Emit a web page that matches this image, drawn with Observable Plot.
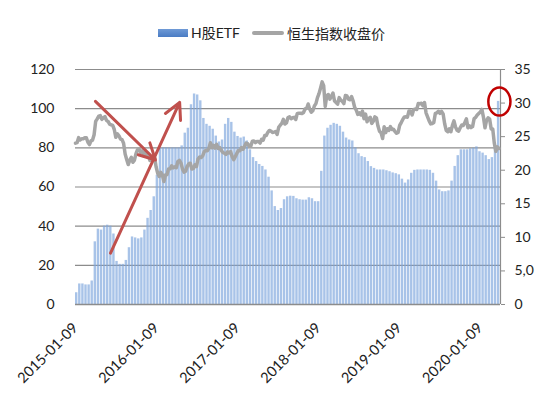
<!DOCTYPE html>
<html>
<head>
<meta charset="utf-8">
<script src="https://cdn.jsdelivr.net/npm/d3@7"></script>
<script src="https://cdn.jsdelivr.net/npm/@observablehq/plot@0.6"></script>
<style>
  html, body { margin: 0; padding: 0; background: #fff; }
  #wrap { position: relative; width: 541px; height: 404px; overflow: hidden; }
  #legend { position: absolute; left: 0; top: 0; width: 541px; height: 55px; font-family: Lato, "Noto Sans CJK SC", sans-serif; font-size: 14px; color: #222; }
  #legend .sw1 { position: absolute; left: 158px; top: 29px; width: 30px; height: 8px; background: linear-gradient(#6f9ad6, #4a7cc4); }
  #legend .t1 { position: absolute; left: 191px; top: 23px; line-height: 20px; }
  #legend .sw2 { position: absolute; left: 252px; top: 31px; width: 32px; height: 4px; background: #a5a5a5; border-radius: 2px; }
  #legend .t2 { position: absolute; left: 287px; top: 23px; line-height: 20px; font-family: "Noto Sans CJK SC", sans-serif; font-size: 14px; }
  #chart { position: absolute; left: 0; top: 55px; width: 541px; }
</style>
</head>
<body>
<div id="wrap">
  <div id="legend">
    <div class="sw1"></div><div class="t1">H股ETF</div>
    <div class="sw2"></div><div class="t2">恒生指数收盘价</div>
  </div>
  <div id="chart"></div>
</div>
<script>
// ---- data ----
const seriesNames = ["H股ETF", "恒生指数收盘价"];
const barStart = "2015-01-09";     // first bar, biweekly steps
const barStepDays = 14;
const etfValues = [
  6, 10.5, 10.5, 10, 10, 12, 32, 38.5, 38, 40, 40.5, 40, 36, 22, 20.5, 20.5, 22.5, 29, 34.5, 34,
  33.5, 34, 38, 44, 48, 55, 66, 80, 80, 80, 80, 80, 80, 80, 81, 87.5, 90, 102, 107.5, 107,
  104, 95, 92, 91, 89.5, 86, 83, 84, 92, 95, 93, 88, 85.8, 85, 85.5, 83.5, 79, 75, 73, 71.5,
  70.5, 68.7, 65, 58, 50, 48, 49, 53.5, 55, 55.3, 55.2, 54, 53.5, 53.3, 53.3, 54.5, 54, 52.5, 52.5, 68,
  86, 90, 91.5, 92.5, 92, 91, 88, 85, 84, 83.5, 80, 77, 75.5, 75, 73, 70.4, 69.5, 68.7, 68.7, 68.7,
  68.3, 67.8, 67.2, 66.8, 66.2, 64, 62, 63.6, 67, 68.5, 68.7, 68.7, 68.7, 68.7, 68.5, 67, 63, 58.5, 57.6, 57.6,
  58, 63, 70.5, 76, 79, 79, 79, 79.5, 79.8, 80.5, 78, 77.3, 76, 74, 75, 80, 103.7
];
const hsiStart = "2015-01-09";     // weekly closes
const hsiStepDays = 7;
const hsiValues = [
  // 2015
  24026, 24103, 24850, 24507, 24679, 24682, 24832, 24823, 24164, 23823, 24375, 24486, 25275, 27272, 27653, 28061, 28133, 27577, 27822, 27992,
  27424, 27260, 26862, 26760, 26663, 26064, 24901, 25415, 25128, 24636, 24552, 24015, 22410, 21612, 20840, 21504, 21920, 21186, 21506, 22458,
  23067, 23152, 22640, 22867, 22397, 22754, 22068, 22236, 21464, 21755, 21919, 21914,
  // 2016
  20454, 19521, 19081, 19683, 19289, 18320, 19286, 19364, 20176, 20199, 20671, 20346, 20498, 20370, 21316, 21467, 21067, 20156, 19719, 19852,
  20576, 20947, 21042, 20169, 20259, 20794, 20564, 21659, 21964, 21891, 22146, 22767, 22937, 22910, 23266, 24099, 23336, 23686, 23297, 23851,
  23233, 23375, 22955, 22643, 22531, 22345, 22723, 22565, 22761, 22020, 21575, 22001,
  // 2017
  22503, 22937, 22886, 23360, 23130, 23575, 24034, 23966, 23553, 23569, 24310, 24358, 24112, 24267, 24262, 24042, 24615, 24477, 25157, 25175,
  25640, 25925, 25831, 25626, 25670, 25765, 25341, 26389, 26706, 26980, 27563, 26884, 27048, 27849, 27953, 27668, 27808, 27881, 27554, 28458,
  28476, 28487, 28439, 28603, 29121, 29199, 29866, 29074, 28640, 28848, 29578, 29919,
  // 2018
  30815, 31412, 32255, 33154, 32602, 29507, 31115, 31268, 30583, 30996, 31502, 30309, 30093, 29844, 30808, 30418, 30281, 29927, 31122, 31048,
  30588, 30492, 30958, 30309, 29339, 28955, 28316, 28525, 28224, 28804, 27676, 28367, 27213, 27672, 27888, 26973, 27286, 27954, 27789, 26573,
  25801, 25561, 24717, 26486, 25601, 26183, 25927, 26507, 26063, 26094, 25753, 25504,
  // 2019
  25626, 26667, 27090, 27569, 27931, 27946, 27901, 28816, 28812, 28228, 29012, 29113, 29051, 29936, 29910, 29963, 29605, 30082, 28550, 27946,
  27354, 26901, 26965, 27118, 28473, 28543, 28775, 28472, 28766, 28398, 26919, 25939, 25734, 26179, 25725, 26691, 27353, 26435, 25955, 25821,
  26308, 26720, 26667, 27101, 27651, 26327, 26595, 26346, 26498, 27688, 27871, 28225,
  // 2020
  28452, 28638, 29056, 27909, 26313, 27404, 27816, 27609, 26130, 26146, 24033, 22805, 23484, 23236
];
const xTickLabels = ["2015-01-09", "2016-01-09", "2017-01-09", "2018-01-09", "2019-01-09", "2020-01-09"];
const xDomain = ["2015-01-09", "2020-04-10"];
const leftTicks = [0, 20, 40, 60, 80, 100, 120];
const rightTicks = [0, 5000, 10000, 15000, 20000, 25000, 30000, 35000];
// right-axis labels as visible in the picture (cut at the image edge there)
const rightTickLabels = ["0", "5,0", "10", "15", "20", "25", "30", "35"];
const rightMax = 35000;
const leftMax = 120;
// annotations (in data space: date, left-axis value)
const arrowStarts = [["2015-04-09", 103.7], ["2015-06-16", 26.2]];
const arrowEnds   = [["2016-01-05", 73.8], ["2016-04-23", 103.2]];
const circleAt = ["2020-04-05", 103.6];

// ---- build tables ----
const parse = d3.utcParse("%Y-%m-%d");
const bars = etfValues.map((v, i) => {
  const d0 = d3.utcDay.offset(parse(barStart), i * barStepDays);
  return { x1: d0, x2: d3.utcDay.offset(d0, barStepDays), v };
});
const hsi = hsiValues.map((v, i) => ({ date: d3.utcDay.offset(parse(hsiStart), i * hsiStepDays), v }));
const toLeft = v => v * leftMax / rightMax;
const rightLabelOf = new Map(rightTicks.map((t, i) => [toLeft(t), rightTickLabels[i]]));
const arrows = arrowStarts.map((s, i) => ({
  x1: parse(s[0]), y1: s[1], x2: parse(arrowEnds[i][0]), y2: arrowEnds[i][1]
}));
const circle = [{ x: parse(circleAt[0]), y: circleAt[1] }];

// ellipse symbol (taller than wide)
const ellipseSymbol = {
  draw(ctx, size) {
    const r = Math.sqrt(size / Math.PI);
    const rx = r * 0.79, ry = r, k = 0.5523;
    ctx.moveTo(rx, 0);
    ctx.bezierCurveTo(rx, ry * k, rx * k, ry, 0, ry);
    ctx.bezierCurveTo(-rx * k, ry, -rx, ry * k, -rx, 0);
    ctx.bezierCurveTo(-rx, -ry * k, -rx * k, -ry, 0, -ry);
    ctx.bezierCurveTo(rx * k, -ry, rx, -ry * k, rx, 0);
    ctx.closePath();
  }
};

const fmt = d3.utcFormat("%Y-%m-%d");
const plot = Plot.plot({
  width: 541,
  height: 349,
  marginLeft: 75,
  marginRight: 41,
  marginTop: 14,
  marginBottom: 100,
  style: { fontFamily: "Lato, sans-serif", fontSize: "14px", color: "#222", background: "white" },
  x: { type: "utc", domain: xDomain.map(parse) },
  y: { domain: [0, leftMax] },
  marks: [
    Plot.gridY(leftTicks, { stroke: "#8c8c8c", strokeOpacity: 1, strokeWidth: 1.2 }),
    Plot.rectY(bars, { x1: "x1", x2: "x2", y: "v", fill: "#7fa7dd", fillOpacity: 0.68, insetRight: 0.7 }),
    Plot.ruleY([0], { stroke: "#8c8c8c", strokeWidth: 1.5 }),
    Plot.ruleX([parse(xDomain[1])], { stroke: "#8c8c8c", strokeWidth: 1.2 }),
    Plot.line(hsi, { x: "date", y: d => toLeft(d.v), stroke: "#a5a5a5", strokeWidth: 3.5, curve: "linear" }),
    Plot.axisY(leftTicks, { anchor: "left", tickSize: 0, tickPadding: 21, fontSize: 14, label: null }),
    Plot.axisY(rightTicks.map(toLeft), { anchor: "right", tickSize: 4, tickPadding: 10, stroke: "#8c8c8c", fontSize: 14, label: null,
      tickFormat: d => rightLabelOf.get(d) }),
    Plot.axisX(xTickLabels.map(parse), { anchor: "bottom", tickSize: 0, tickPadding: 21, tickRotate: -45, fontSize: 14.5, label: null, tickFormat: fmt }),
    Plot.arrow(arrows, { x1: "x1", y1: "y1", x2: "x2", y2: "y2", stroke: "#c0504d", strokeWidth: 3, headLength: 9, headAngle: 55 }),
    Plot.dot(circle, { x: "x", y: "y", r: 14, symbol: ellipseSymbol, stroke: "#c00000", strokeWidth: 2.5, fill: "none" })
  ]
});
document.getElementById("chart").appendChild(plot);
</script>
</body>
</html>
